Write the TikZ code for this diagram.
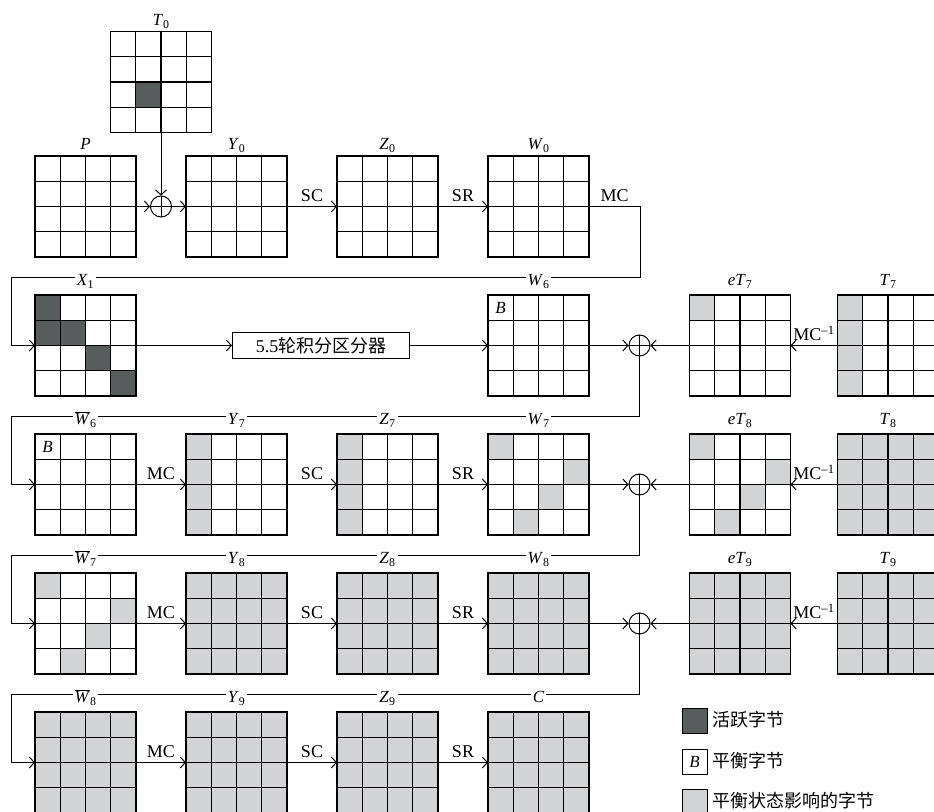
\documentclass[tikz,border=0pt]{standalone}
\usepackage{fontspec}
\setmainfont{Liberation Serif}
\newfontfamily\cjk{Noto Sans CJK SC}
\usetikzlibrary{arrows.meta,positioning,calc}
\definecolor{active}{RGB}{88,92,92}
\definecolor{affect}{RGB}{209,211,213}
\newcommand{\cellw}{25.25}
\newcommand{\sv}[2]{\textit{#1}\textsubscript{#2}}
\newcommand{\wbar}[1]{$\overline{\mbox{\textit{W}}}$\textsubscript{#1}}
% #1 label lift, #2 grid node, #3 label, #4 shaded cells col/row/colour
\newcommand{\bytes}[4][9pt]{%
  \begin{scope}[shift={(#2.north west)}]
    \def\celllist{#4}%
    \ifx\celllist\empty\else
      \foreach \cx/\cy/\cf in \celllist
        \fill[\cf] ({(\cx-1)*\cellw},{-(\cy-1)*\cellw}) rectangle ++(\cellw,-\cellw);
    \fi
    \foreach \i in {1,2,3} {
      \draw[gridln] ({\i*\cellw},0) -- ++(0,{-4*\cellw});
      \draw[gridln] (0,{-\i*\cellw}) -- ++({4*\cellw},0);
    }
    \draw[gridln] (0,0) rectangle ({4*\cellw},{-4*\cellw});
  \end{scope}
  \node[lbl, anchor=base] (#2-l) at ([yshift=#1]#2.north) {#3};
}

\begin{document}
\begin{tikzpicture}[x=1pt, y=1pt,
  node distance=38pt and 50pt,
  blk/.style={minimum size=101pt, inner sep=0pt, outer sep=0pt},
  gridln/.style={line width=1.2pt},
  xor/.style={circle, draw, line width=1pt, minimum size=21pt, inner sep=0pt,
    path picture={\draw[line width=1pt]
      (path picture bounding box.north) -- (path picture bounding box.south)
      (path picture bounding box.west) -- (path picture bounding box.east);}},
  lbl/.style={font=\fontsize{17}{17}\selectfont, fill=white, inner sep=2pt},
  oplab/.style={midway, above=3pt, font=\fontsize{18}{18}\selectfont, inner sep=1pt},
  arr/.style={-{Straight Barb[length=5pt, width=11pt]}, line width=1pt},
  dbox/.style={draw, line width=1.2pt, minimum width=177pt, minimum height=26pt,
               inner sep=0pt, font=\fontsize{18}{18}\selectfont},
  legbox/.style={draw, line width=1pt, minimum size=25pt, inner sep=0pt,
                 font=\fontsize{17}{17}\selectfont},
  legtext/.style={font={\cjk\fontsize{18}{18}\selectfont}, inner sep=0pt, yshift=1.5pt}
]
\useasboundingbox (0,0) rectangle (934,811);

% first round
\node[blk] (P) at (85.5,604.5) {};
\node[blk, right=of P] (Y0) {};
\node[xor] (x0) at ($(P.east)!0.5!(Y0.west)$) {};
\node[blk, above=63pt of x0] (T0) {};
\node[blk, right=of Y0] (Z0) {};
\node[blk, right=of Z0] (W0) {};

% distinguisher row
\node[blk, below=of P] (X1) {};
\node[dbox, right=96pt of X1] (dist) {5.5{\cjk 轮积分区分器}};
\node[blk, below=of W0] (W6) {};
\node[xor, right=39.5pt of W6] (x1) {};
\node[blk, right=39pt of x1] (eT7) {};
\node[blk, right=47pt of eT7] (T7) {};

% rounds 7--9
\node[blk, below=of X1] (W6b) {};
\node[blk, right=of W6b] (Y7) {};
\node[blk, right=of Y7] (Z7) {};
\node[blk, right=of Z7] (W7) {};
\node[xor, right=39.5pt of W7] (x2) {};
\node[blk, right=39pt of x2] (eT8) {};
\node[blk, right=47pt of eT8, fill=affect] (T8) {};

\node[blk, below=of W6b] (W7b) {};
\node[blk, right=of W7b, fill=affect] (Y8) {};
\node[blk, right=of Y8, fill=affect] (Z8) {};
\node[blk, right=of Z8, fill=affect] (W8) {};
\node[xor, right=39.5pt of W8] (x3) {};
\node[blk, right=39pt of x3, fill=affect] (eT9) {};
\node[blk, right=47pt of eT9, fill=affect] (T9) {};

\node[blk, below=of W7b, fill=affect] (W8b) {};
\node[blk, right=of W8b, fill=affect] (Y9) {};
\node[blk, right=of Y9, fill=affect] (Z9) {};
\node[blk, right=of Z9, fill=affect] (C) {};

% connectors
\draw[arr] (P) -- (x0);
\draw[arr] (T0) -- (x0);
\draw[arr] (x0) -- (Y0);
\draw[arr] (Y0) -- node[oplab]{SC} (Z0);
\draw[arr] (Z0) -- node[oplab]{SR} (W0);
\draw[arr] (W0.east) -- node[oplab]{MC} ++(51pt,0)
  |- ([xshift=-24pt, yshift=17.5pt]X1.north west) |- (X1.west);

\draw[arr] (X1) -- (dist);
\draw[arr] (dist) -- (W6);
\draw[arr] (W6) -- (x1);
\draw[arr] (eT7) -- (x1);
\draw[arr] (T7) -- node[oplab]{MC\textsuperscript{–1}} (eT7);
\draw[arr] (x1.south) |- ([xshift=-24pt, yshift=17.5pt]W6b.north west) |- (W6b.west);

\draw[arr] (W6b) -- node[oplab]{MC} (Y7);
\draw[arr] (Y7) -- node[oplab]{SC} (Z7);
\draw[arr] (Z7) -- node[oplab]{SR} (W7);
\draw[arr] (W7) -- (x2);
\draw[arr] (eT8) -- (x2);
\draw[arr] (T8) -- node[oplab]{MC\textsuperscript{–1}} (eT8);
\draw[arr] (x2.south) |- ([xshift=-24pt, yshift=17.5pt]W7b.north west) |- (W7b.west);

\draw[arr] (W7b) -- node[oplab]{MC} (Y8);
\draw[arr] (Y8) -- node[oplab]{SC} (Z8);
\draw[arr] (Z8) -- node[oplab]{SR} (W8);
\draw[arr] (W8) -- (x3);
\draw[arr] (eT9) -- (x3);
\draw[arr] (T9) -- node[oplab]{MC\textsuperscript{–1}} (eT9);
\draw[arr] (x3.south) |- ([xshift=-24pt, yshift=17.5pt]W8b.north west) |- (W8b.west);

\draw[arr] (W8b) -- node[oplab]{MC} (Y9);
\draw[arr] (Y9) -- node[oplab]{SC} (Z9);
\draw[arr] (Z9) -- node[oplab]{SR} (C);

% state grids
\bytes[6pt]{T0}{\sv{T}{0}}{2/3/active}
\bytes[6pt]{P}{\textit{P}}{}
\bytes[6pt]{Y0}{\sv{Y}{0}}{}
\bytes[6pt]{Z0}{\sv{Z}{0}}{}
\bytes[6pt]{W0}{\sv{W}{0}}{}

\bytes{X1}{\sv{X}{1}}{1/1/active,1/2/active,2/2/active,3/3/active,4/4/active}
\bytes{W6}{\sv{W}{6}}{}
\bytes{eT7}{\sv{eT}{7}}{1/1/affect}
\bytes{T7}{\sv{T}{7}}{1/1/affect,1/2/affect,1/3/affect,1/4/affect}

\bytes{W6b}{\wbar{6}}{}
\bytes{Y7}{\sv{Y}{7}}{1/1/affect,1/2/affect,1/3/affect,1/4/affect}
\bytes{Z7}{\sv{Z}{7}}{1/1/affect,1/2/affect,1/3/affect,1/4/affect}
\bytes{W7}{\sv{W}{7}}{1/1/affect,4/2/affect,3/3/affect,2/4/affect}
\bytes{eT8}{\sv{eT}{8}}{1/1/affect,4/2/affect,3/3/affect,2/4/affect}
\bytes{T8}{\sv{T}{8}}{}

\bytes{W7b}{\wbar{7}}{1/1/affect,4/2/affect,3/3/affect,2/4/affect}
\bytes{Y8}{\sv{Y}{8}}{}
\bytes{Z8}{\sv{Z}{8}}{}
\bytes{W8}{\sv{W}{8}}{}
\bytes{eT9}{\sv{eT}{9}}{}
\bytes{T9}{\sv{T}{9}}{}

\bytes{W8b}{\wbar{8}}{}
\bytes{Y9}{\sv{Y}{9}}{}
\bytes{Z9}{\sv{Z}{9}}{}
\bytes{C}{\textit{C}}{}

\node[lbl] (W6-B) at ([xshift=12.6pt, yshift=-12.6pt]W6.north west) {\textit{B}};
\node[lbl] (W6b-B) at ([xshift=12.6pt, yshift=-12.6pt]W6b.north west) {\textit{B}};

% legend
\node[legbox, fill=active, below right=34pt and -8pt of eT9.south west] (k1) {};
\node[legtext, right=5pt of k1] (k1-t) {活跃字节};
\node[legbox, below=15pt of k1] (k2) {\textit{B}};
\node[legtext, right=5pt of k2] (k2-t) {平衡字节};
\node[legbox, fill=affect, below=14pt of k2] (k3) {};
\node[legtext, right=5pt of k3] (k3-t) {平衡状态影响的字节};
\end{tikzpicture}
\end{document}
